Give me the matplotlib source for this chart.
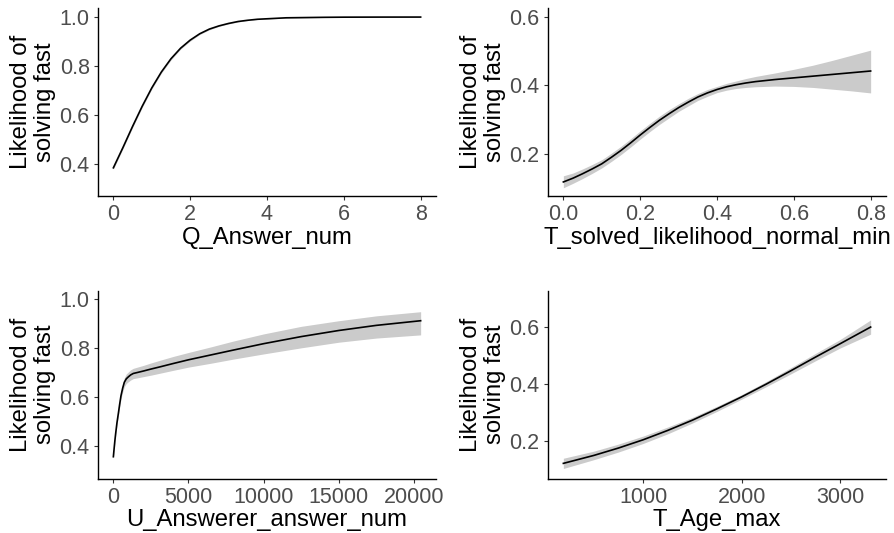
import matplotlib
matplotlib.use("Agg")
import matplotlib.pyplot as plt

plt.rcParams["font.family"] = ["Liberation Sans", "DejaVu Sans"]

y_title = "Likelihood of\nsolving fast"
line_col = "black"
band_col = "#cbcbcb"

# Q_Answer_num
qa_x = [0, 0.25, 0.5, 0.75, 1, 1.25, 1.5, 1.75, 2, 2.25, 2.5, 2.75, 3,
        3.25, 3.5, 3.75, 4, 4.5, 5, 5.5, 6, 7, 8]
qa_fit = [0.385, 0.468, 0.554, 0.636, 0.711, 0.776, 0.830, 0.873, 0.906,
          0.932, 0.951, 0.964, 0.974, 0.982, 0.987, 0.991, 0.993, 0.997,
          0.998, 0.999, 0.9996, 0.9999, 1.0]
qa_lo = [0.379, 0.463, 0.549, 0.631, 0.706, 0.771, 0.825, 0.869, 0.902,
         0.929, 0.948, 0.962, 0.972, 0.980, 0.986, 0.990, 0.992, 0.996,
         0.997, 0.9985, 0.9993, 0.9998, 0.9999]
qa_hi = [0.391, 0.473, 0.559, 0.641, 0.716, 0.781, 0.835, 0.877, 0.910,
         0.935, 0.954, 0.966, 0.976, 0.984, 0.988, 0.992, 0.994, 0.998,
         0.999, 0.9995, 0.9998, 1.0, 1.0]

# T_solved_likelihood_normal_min
ts_x = [0.0, 0.025, 0.05, 0.075, 0.1, 0.125, 0.15, 0.175, 0.2, 0.225,
        0.25, 0.275, 0.3, 0.325, 0.35, 0.375, 0.4, 0.425, 0.45, 0.475,
        0.5, 0.55, 0.6, 0.65, 0.7, 0.75, 0.8]
ts_fit = [0.118, 0.129, 0.142, 0.156, 0.171, 0.190, 0.210, 0.232, 0.255,
          0.277, 0.298, 0.317, 0.335, 0.351, 0.366, 0.378, 0.388, 0.396,
          0.402, 0.407, 0.411, 0.417, 0.422, 0.427, 0.432, 0.437, 0.442]
ts_lo = [0.101, 0.114, 0.128, 0.143, 0.159, 0.178, 0.198, 0.220, 0.243,
         0.265, 0.286, 0.305, 0.324, 0.340, 0.356, 0.368, 0.379, 0.386,
         0.391, 0.394, 0.396, 0.398, 0.397, 0.394, 0.389, 0.384, 0.378]
ts_hi = [0.136, 0.144, 0.156, 0.169, 0.183, 0.202, 0.222, 0.244, 0.267,
         0.289, 0.310, 0.329, 0.346, 0.362, 0.376, 0.388, 0.397, 0.406,
         0.413, 0.420, 0.426, 0.436, 0.447, 0.459, 0.473, 0.488, 0.503]

# U_Answerer_answer_num
ua_x = [0, 50, 100, 155, 240, 332, 420, 508, 620, 730, 860, 995, 1150,
        1326, 1600, 2000, 2500, 3100, 4000, 5000, 6500, 8000, 10000,
        12500, 15000, 17500, 20450]
ua_fit = [0.355, 0.388, 0.420, 0.451, 0.494, 0.532, 0.570, 0.605, 0.636,
          0.660, 0.674, 0.682, 0.690, 0.696, 0.700, 0.706, 0.714, 0.723,
          0.737, 0.752, 0.772, 0.792, 0.818, 0.847, 0.872, 0.893, 0.912]
ua_lo = [0.349, 0.381, 0.412, 0.443, 0.485, 0.522, 0.559, 0.592, 0.620,
         0.642, 0.655, 0.662, 0.669, 0.675, 0.678, 0.683, 0.689, 0.697,
         0.709, 0.722, 0.738, 0.755, 0.776, 0.801, 0.824, 0.841, 0.854]
ua_hi = [0.361, 0.395, 0.428, 0.459, 0.503, 0.542, 0.581, 0.618, 0.652,
         0.678, 0.694, 0.702, 0.711, 0.717, 0.722, 0.729, 0.739, 0.750,
         0.766, 0.782, 0.805, 0.829, 0.858, 0.889, 0.912, 0.932, 0.949]

# T_Age_max
ag_x = [190, 500, 750, 1000, 1250, 1500, 1750, 2000, 2250, 2500, 2750, 3000, 3311]
ag_fit = [0.120, 0.148, 0.174, 0.203, 0.236, 0.272, 0.312, 0.354, 0.399,
          0.446, 0.494, 0.541, 0.600]
ag_lo = [0.102, 0.133, 0.160, 0.190, 0.224, 0.262, 0.303, 0.346, 0.390,
         0.435, 0.481, 0.526, 0.575]
ag_hi = [0.138, 0.163, 0.188, 0.216, 0.248, 0.282, 0.321, 0.362, 0.408,
         0.457, 0.507, 0.556, 0.625]

panels = [
    # x, fit, lo, hi, xlabel, xticks, xlim, yticks, ylim, (left, top) in px
    (qa_x, qa_fit, qa_lo, qa_hi, "Q_Answer_num", [0, 2, 4, 6, 8],
     (-0.4, 8.4), [0.4, 0.6, 0.8, 1.0], (0.27, 1.037), (98, 8)),
    (ts_x, ts_fit, ts_lo, ts_hi, "T_solved_likelihood_normal_min",
     [0.0, 0.2, 0.4, 0.6, 0.8], (-0.04, 0.84), [0.2, 0.4, 0.6],
     (0.077, 0.626), (548, 8)),
    (ua_x, ua_fit, ua_lo, ua_hi, "U_Answerer_answer_num",
     [0, 5000, 10000, 15000, 20000], (-1022, 21472), [0.4, 0.6, 0.8, 1.0],
     (0.265, 1.035), (98, 290.7)),
    (ag_x, ag_fit, ag_lo, ag_hi, "T_Age_max", [1000, 2000, 3000],
     (34, 3467), [0.2, 0.4, 0.6], (0.066, 0.728), (548, 290.7)),
]

W, H = 895, 533
fig = plt.figure(figsize=(W / 100, H / 100), dpi=100)

for x, fit, lo, hi, xlab, xt, xl, yt, yl, (left, top) in panels:
    ax = fig.add_axes([left / W, 1 - (top + 188) / H, 338 / W, 188 / H])
    ax.fill_between(x, lo, hi, color=band_col, lw=0)
    ax.plot(x, fit, color=line_col, lw=1.2)
    ax.set_xlim(*xl)
    ax.set_ylim(*yl)
    ax.set_xticks(xt)
    ax.set_yticks(yt)
    ax.set_yticklabels([f"{v:.1f}" for v in yt])
    if isinstance(xt[0], float):
        ax.set_xticklabels([f"{v:.1f}" for v in xt])
    for side in ["top", "right"]:
        ax.spines[side].set_visible(False)
    for side in ["left", "bottom"]:
        ax.spines[side].set_linewidth(1.0)
        ax.spines[side].set_color("black")
    ax.tick_params(length=3, width=0.8, color="#333333",
                   labelcolor="#4d4d4d", labelsize=15.5, pad=3)
    ax.set_xlabel(xlab, fontsize=17.2, labelpad=1)
    ax.set_ylabel(y_title, fontsize=17.2, linespacing=1.12)
    ax.yaxis.set_label_coords(-42 / 338, 0.5)

plt.savefig("out.png", dpi=100)
